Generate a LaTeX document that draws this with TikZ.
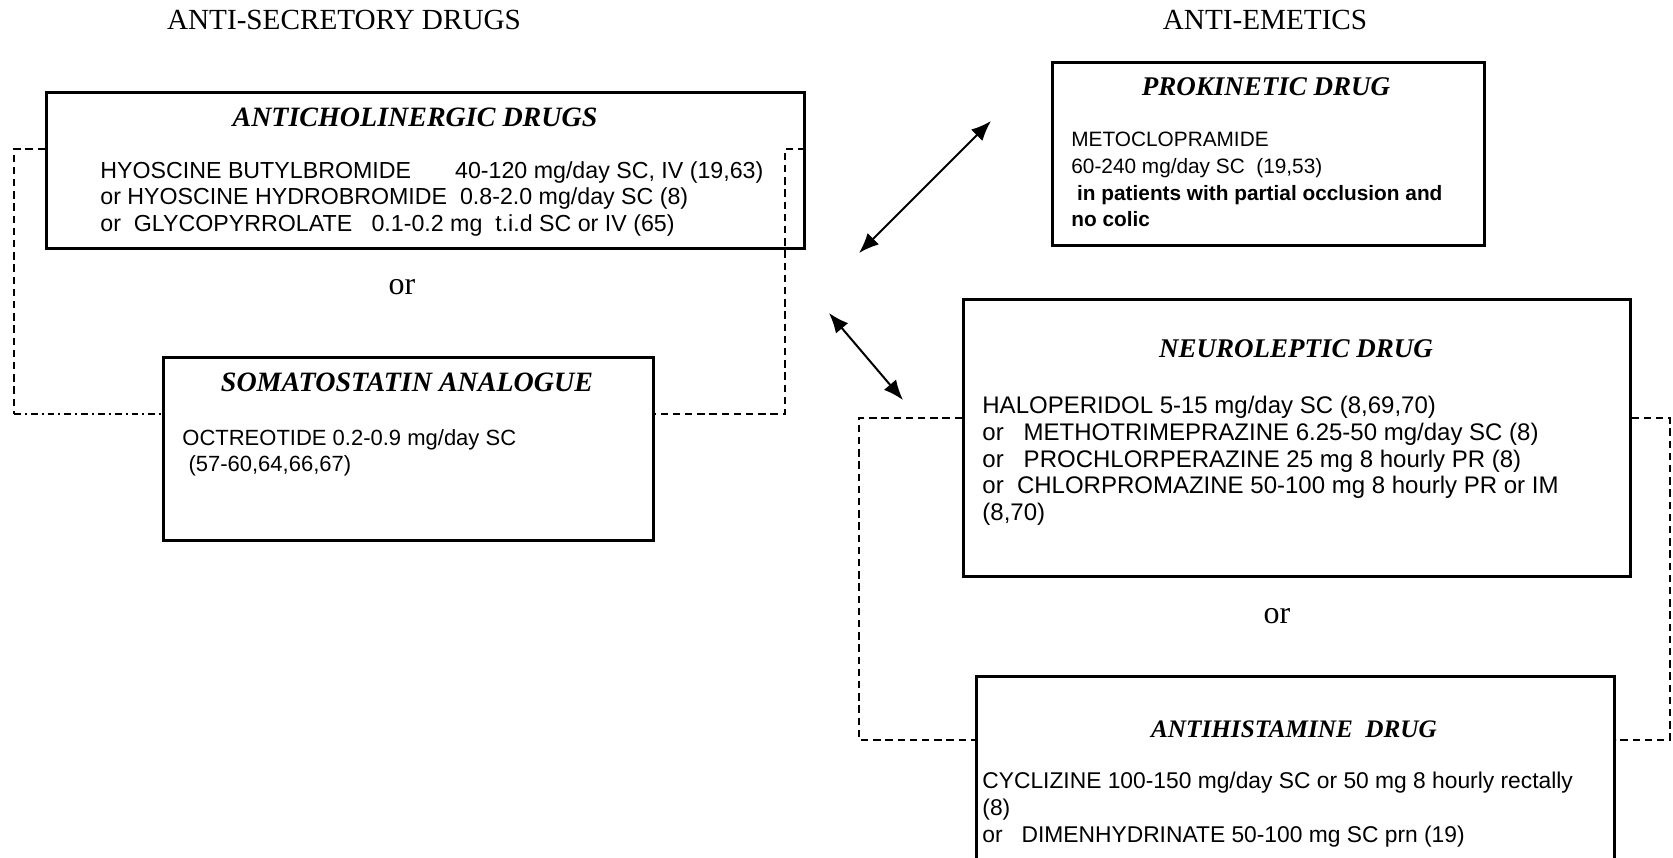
\documentclass[tikz,border=0pt]{standalone}
\usepackage{fontspec}
\setmainfont{Liberation Serif}
\newfontfamily\bodyfont{Liberation Sans}
\usetikzlibrary{arrows.meta}

\begin{document}
\begin{tikzpicture}[x=0.5pt,y=-0.5pt,
  drugbox/.style={draw, line width=1.3pt, anchor=north west, inner sep=0pt},
  boxtitle/.style={font=\fontsize{#1}{15}\selectfont\bfseries\itshape, inner sep=0pt},
  boxtitle/.default=14,
  boxbody/.style={font=\bodyfont\fontsize{#1}{13.3}\selectfont, align=left, anchor=north west, inner sep=0pt},
  boxbody/.default=11.4,
  heading/.style={font=\fontsize{14.6}{16}\selectfont, inner sep=0pt},
  ortext/.style={font=\fontsize{16}{18}\selectfont, inner sep=0pt},
  bracket/.style={line width=1.2pt, dash pattern=on 3.7pt off 2.4pt},
  dashdotline/.style={line width=1.2pt, dash pattern=on 3.4pt off 2pt on 1pt off 2pt},
  link/.style={line width=1pt, {Latex[length=10pt,width=8pt]}-{Latex[length=10pt,width=8pt]}}
]
\path[use as bounding box] (0,0) rectangle (1673,857);
\clip (0,0) rectangle (1673,857);

% column headings
\node[heading] (hsec) at (344,20) {ANTI-SECRETORY DRUGS};
\node[heading] (hemet) at (1265,20) {ANTI-EMETICS};

% ---- anti-secretory drugs ----
\node[drugbox, minimum width=379pt, minimum height=78pt] (ac) at (45,91) {};
\node[boxtitle=14] (actitle) at (415,117) {ANTICHOLINERGIC DRUGS};
\node[boxbody=11.6] (acbody) at (100,161) {HYOSCINE BUTYLBROMIDE\hspace{1.9em}40-120 mg/day SC, IV (19,63)\\
or HYOSCINE HYDROBROMIDE\ \ 0.8-2.0 mg/day SC (8)\\
or\ \ GLYCOPYRROLATE\ \ \ 0.1-0.2 mg\ \ t.i.d SC or IV (65)};

\node[ortext] (or1) at (402,287) {or};

\node[drugbox, minimum width=245pt, minimum height=91.5pt] (so) at (162,356) {};
\node[boxtitle=14] (sotitle) at (407,382) {SOMATOSTATIN ANALOGUE};
\node[boxbody=11] (sobody) at (182,429) {OCTREOTIDE 0.2-0.9 mg/day SC\\
\ (57-60,64,66,67)};

% bracket joining the two alternatives
\coordinate (lt) at (14,149);
\coordinate (lb) at (14,414);
\coordinate (rt) at (785,149);
\coordinate (rb) at (785,414);
\draw[bracket] (ac.west |- lt) -- (lt) -- (lb);
\draw[dashdotline] (lb) -- (so.west |- lb);
\draw[bracket] (ac.east |- rt) -- (rt) -- (rb) -- (so.east |- rb);

% ---- anti-emetics ----
\node[drugbox, minimum width=216pt, minimum height=91.5pt] (pk) at (1051,61) {};
\node[boxtitle=13.5] (pktitle) at (1266,87) {PROKINETIC DRUG};
\node[boxbody=10.4] (pkbody) at (1071,132) {METOCLOPRAMIDE\\
60-240 mg/day SC\ \ (19,53)\\
\textbf{\ in patients with partial occlusion and}\\
\textbf{no colic}};

\node[drugbox, minimum width=333.5pt, minimum height=138.5pt] (ne) at (962,298) {};
\node[boxtitle=13.5] (netitle) at (1296,349) {NEUROLEPTIC DRUG};
\node[boxbody=12] (nebody) at (982,396) {HALOPERIDOL 5-15 mg/day SC (8,69,70)\\
or\ \ \ METHOTRIMEPRAZINE 6.25-50 mg/day SC (8)\\
or\ \ \ PROCHLORPERAZINE 25 mg 8 hourly PR (8)\\
or\ \ CHLORPROMAZINE 50-100 mg 8 hourly PR or IM\\
(8,70)};

\node[ortext] (or2) at (1277,616) {or};

\node[drugbox, minimum width=319pt, minimum height=110pt] (ah) at (975,675) {};
\node[boxtitle=12.6] (ahtitle) at (1294,729) {ANTIHISTAMINE\ \ DRUG};
\node[boxbody=11.4] (ahbody) at (982,772) {CYCLIZINE 100-150 mg/day SC or 50 mg 8 hourly rectally\\
(8)\\
or\ \ \ DIMENHYDRINATE 50-100 mg SC prn (19)};

% bracket joining the two anti-emetic alternatives
\coordinate (elt) at (859,418);
\coordinate (elb) at (859,740);
\coordinate (ert) at (1670,418);
\coordinate (erb) at (1670,740);
\draw[bracket] (ne.west |- elt) -- (elt) -- (elb) -- (ah.west |- elb);
\draw[bracket] (ne.east |- ert) -- (ert) -- (erb) -- (ah.east |- erb);

% links between the anti-secretory side and the anti-emetics
\coordinate (a1s) at (859,253);
\coordinate (a1e) at (991,121);
\coordinate (a2s) at (829,313);
\coordinate (a2e) at (903,400);
\draw[link] (a1s) -- (a1e);
\draw[link] (a2s) -- (a2e);
\end{tikzpicture}
\end{document}
